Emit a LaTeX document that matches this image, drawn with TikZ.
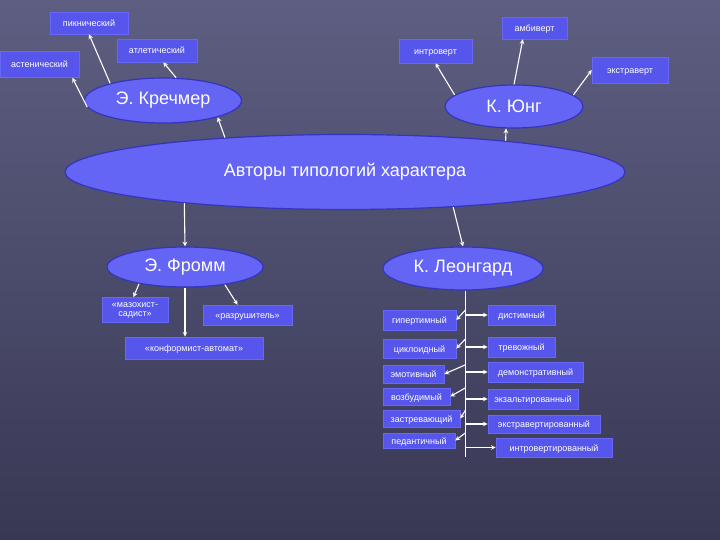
\documentclass[tikz,border=0pt]{standalone}
\usepackage{fontspec}
\setmainfont{Liberation Sans}
\usepackage{tikz}
\usetikzlibrary{shapes.geometric}

\definecolor{bgtop}{RGB}{94,94,130}
\definecolor{bgbot}{RGB}{56,56,84}
\definecolor{boxblue}{RGB}{86,86,236}
\definecolor{boxedge}{RGB}{104,104,246}
\definecolor{ovalblue}{RGB}{100,100,245}
\definecolor{ovaledge}{RGB}{52,52,190}

\begin{document}
\begin{tikzpicture}[x=1pt,y=-1pt,
        author/.style={ellipse,fill=ovalblue,draw=ovaledge,line width=1.2pt,inner sep=0pt,text=white,font=\fontsize{18}{20}\selectfont},
        typebox/.style={rectangle,fill=boxblue,draw=boxedge,line width=0.6pt,inner sep=1pt,text=white,text height=7pt,text depth=0pt,font=\fontsize{9}{9.5}\selectfont},
        conn/.style={draw=white,line width=1.1pt,->,>=stealth}]
            \shade[top color=bgtop,bottom color=bgbot] (0,0) rectangle (720,540);
            \useasboundingbox (0,0) rectangle (720,540);

            \node[author,minimum width=560pt,minimum height=75pt] (authors) at (345,172) {Авторы типологий характера};
            \node[author,minimum width=157pt,minimum height=45pt] (kretschmer) at (163,100.5) {Э. Кречмер};
            \node[author,minimum width=138pt,minimum height=43pt] (jung) at (514,106.5) {К. Юнг};
            \node[author,minimum width=156pt,minimum height=40pt] (fromm) at (185,267) {Э. Фромм};
            \node[author,minimum width=160pt,minimum height=43pt] (leonhard) at (463,268.5) {К. Леонгард};

            \node[typebox,minimum width=78pt,minimum height=22pt] (pyknic) at (89,23) {пикнический};
            \node[typebox,minimum width=80pt,minimum height=23pt] (athletic) at (157,50.5) {атлетический};
            \node[typebox,minimum width=79pt,minimum height=26pt] (asthenic) at (39.5,64.5) {астенический};
            \node[typebox,minimum width=65pt,minimum height=22pt] (ambivert) at (534.5,28) {амбиверт};
            \node[typebox,minimum width=73pt,minimum height=24pt] (introvert) at (435.5,51) {интроверт};
            \node[typebox,minimum width=76pt,minimum height=26pt] (extravert) at (630,70) {экстраверт};

            \node[typebox,minimum width=66pt,minimum height=25pt,text height=,text depth=,align=center,font=\fontsize{9}{9}\selectfont] (masochist) at (135,310) {«мазохист-\\садист»};
            \node[typebox,minimum width=89pt,minimum height=20pt] (destroyer) at (247.5,315) {«разрушитель»};
            \node[typebox,minimum width=138pt,minimum height=22pt] (conformist) at (194,348) {«конформист-автомат»};

            \node[typebox,minimum width=73pt,minimum height=20pt] (hyper) at (419.5,320) {гипертимный};
            \node[typebox,minimum width=73pt,minimum height=19pt] (cycloid) at (419.5,348.5) {циклоидный};
            \node[typebox,minimum width=61pt,minimum height=18pt] (emotive) at (413.5,374) {эмотивный};
            \node[typebox,minimum width=67pt,minimum height=17pt] (excitable) at (416.5,396.5) {возбудимый};
            \node[typebox,minimum width=77pt,minimum height=17pt] (stuck) at (421.5,418.5) {застревающий};
            \node[typebox,minimum width=72pt,minimum height=15pt] (pedantic) at (419,440.5) {педантичный};

            \node[typebox,minimum width=67pt,minimum height=20pt] (dysthymic) at (521.5,315) {дистимный};
            \node[typebox,minimum width=67pt,minimum height=20pt] (anxious) at (521.5,347) {тревожный};
            \node[typebox,minimum width=95pt,minimum height=20pt] (demonstr) at (535.5,372) {демонстративный};
            \node[typebox,minimum width=90pt,minimum height=20pt] (exalted) at (533,399) {экзальтированный};
            \node[typebox,minimum width=112pt,minimum height=18pt] (extraverted) at (544,424) {экстравертированный};
            \node[typebox,minimum width=116pt,minimum height=19pt] (introverted) at (554,447.5) {интровертированный};

            \draw[conn] (authors.164) -- (kretschmer.-17);
            \draw[conn] (authors.11.4) -- (jung.-110);
            \draw[conn] (authors.191.5) -- (fromm.north);
            \draw[conn] (authors.-18.5) -- (leonhard.north);

            \draw[conn] (kretschmer.162) -- (pyknic.south);
            \draw[conn] (kretschmer.60) -- (athletic.-62);
            \draw[conn] (kretschmer.185) -- (asthenic.-22);

            \draw[conn] (jung.169) -- (introvert.south);
            \draw[conn] (jung.north) -- (ambivert.-136);
            \draw[conn] (jung.11) -- (extravert.west);

            \draw[conn] (fromm.-160) -- (masochist.97);
            \draw[conn] (fromm.-24) -- (destroyer.134);
            \draw[conn] (fromm.south) -- (fromm.south |- conformist.north);

            \coordinate (ltop) at (leonhard.-83);
            \draw[draw=white,line width=1.1pt] (ltop) -- (ltop |- introverted.south);
            \foreach \t in {hyper,cycloid,emotive,excitable,stuck,pedantic}
                \draw[conn] (ltop |- \t.north) -- (\t.east);
            \foreach \t in {dysthymic,anxious,demonstr,exalted,extraverted,introverted}
                \draw[conn] (ltop |- \t.west) -- (\t.west);
        \end{tikzpicture}
\end{document}
